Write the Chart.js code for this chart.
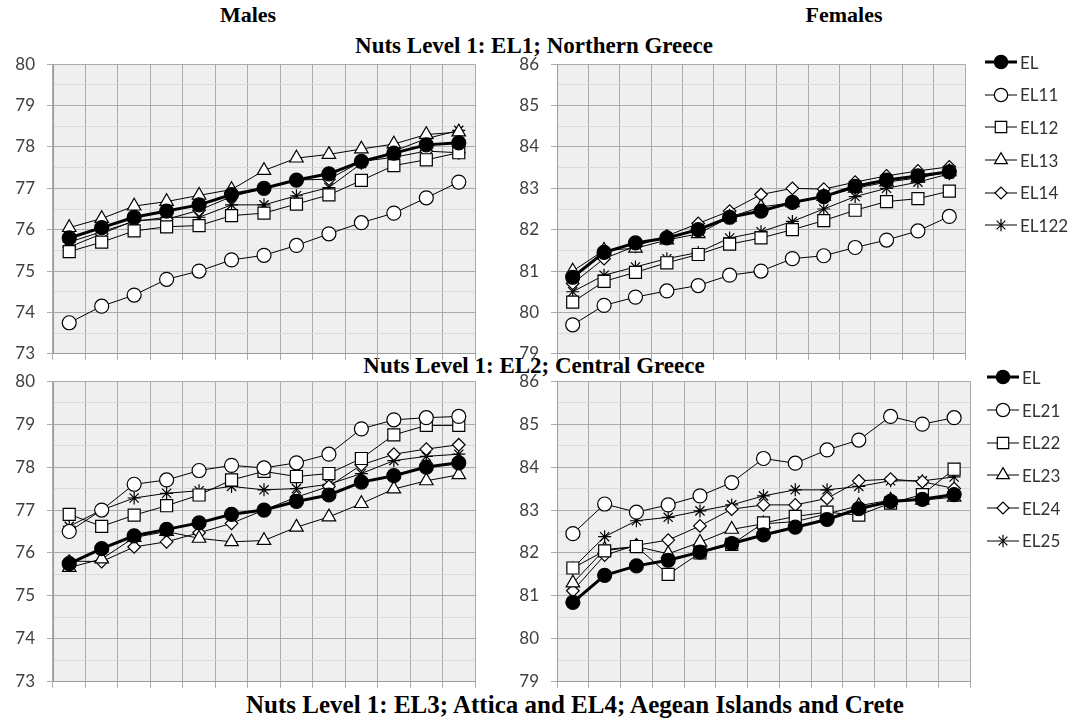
<!DOCTYPE html>
<html>
<head>
<meta charset="utf-8">
<script src="https://cdn.jsdelivr.net/npm/chart.js@4.4.1/dist/chart.umd.min.js"></script>
<style>
  body { margin: 0; width: 1068px; height: 720px; background: #fff; position: relative; overflow: hidden; }
  .ttl { position: absolute; font-family: "Liberation Serif", "Times New Roman", serif; font-weight: bold;
         font-size: 23px; color: #000; white-space: nowrap; transform: translate(-50%, -50%); }
  .ttl.sex { font-size: 22px; }
  .ttl.foot { font-size: 25px; }
  canvas { position: absolute; }
  .legend { position: absolute; font-family: Lato, sans-serif; font-size: 17px; color: #333; }
  .legend .item { display: flex; align-items: center; }
  .legend canvas { position: static; margin-right: 2px; }
</style>
</head>
<body>
<div class="ttl sex" style="left:248px;top:15px">Males</div>
<div class="ttl sex" style="left:844px;top:15px">Females</div>
<div class="ttl" style="left:534px;top:46px">Nuts Level 1: EL1; Northern Greece</div>
<div class="ttl" style="left:534px;top:366px">Nuts Level 1: EL2; Central Greece</div>
<div class="ttl foot" style="left:575px;top:705px">Nuts Level 1: EL3; Attica and EL4; Aegean Islands and Crete</div>

<canvas id="maleNorth" width="490" height="334" style="left:0;top:42px"></canvas>
<canvas id="femNorth" width="480" height="334" style="left:500px;top:42px"></canvas>
<canvas id="maleCentral" width="490" height="345" style="left:0;top:359px"></canvas>
<canvas id="femCentral" width="485" height="345" style="left:500px;top:359px"></canvas>

<div class="legend" id="legNorth" style="left:985px;top:46px"></div>
<div class="legend" id="legCentral" style="left:987px;top:361px"></div>

<script>
// 13 periods, x labels are not shown in the figure
const periods = ['1', '2', '3', '4', '5', '6', '7', '8', '9', '10', '11', '12', '13'];

const northNames = ['EL', 'EL11', 'EL12', 'EL13', 'EL14', 'EL122'];
const centralNames = ['EL', 'EL21', 'EL22', 'EL23', 'EL24', 'EL25'];

// Males, Northern Greece
const maleEL    = [75.8, 76.05, 76.3, 76.45, 76.6, 76.85, 77.0, 77.2, 77.35, 77.65, 77.85, 78.05, 78.1];
const maleEL11  = [73.75, 74.15, 74.42, 74.8, 75.0, 75.27, 75.38, 75.62, 75.9, 76.17, 76.4, 76.77, 77.15];
const maleEL12  = [75.47, 75.7, 75.97, 76.07, 76.1, 76.34, 76.4, 76.62, 76.84, 77.19, 77.55, 77.69, 77.86];
const maleEL13  = [76.05, 76.27, 76.57, 76.68, 76.83, 76.97, 77.43, 77.73, 77.82, 77.95, 78.07, 78.3, 78.36];
const maleEL14  = [75.58, 75.9, 76.22, 76.25, 76.47, 76.8, 77.0, 77.2, 77.22, 77.65, 77.75, 77.9, 77.86];
const maleEL122 = [75.7, 75.95, 76.2, 76.3, 76.3, 76.6, 76.6, 76.82, 77.02, 77.6, 77.9, 78.2, 78.4];

// Females, Northern Greece
const femEL    = [80.85, 81.45, 81.68, 81.8, 82.0, 82.3, 82.45, 82.66, 82.8, 83.05, 83.2, 83.3, 83.4];
const femEL11  = [79.7, 80.17, 80.37, 80.52, 80.65, 80.9, 81.0, 81.3, 81.37, 81.57, 81.75, 81.97, 82.32];
const femEL12  = [80.25, 80.75, 80.97, 81.2, 81.4, 81.65, 81.8, 82.0, 82.22, 82.47, 82.68, 82.75, 82.93];
const femEL13  = [81.0, 81.5, 81.55, 81.75, 81.9, 82.3, 82.55, 82.65, 82.8, 83.0, 83.15, 83.25, 83.4];
const femEL14  = [80.7, 81.3, 81.6, 81.85, 82.15, 82.45, 82.85, 83.0, 82.98, 83.15, 83.3, 83.42, 83.52];
const femEL122 = [80.5, 80.9, 81.1, 81.3, 81.45, 81.8, 81.95, 82.2, 82.5, 82.8, 83.0, 83.15, 83.35];

// Males, Central Greece
const maleELc  = [75.75, 76.1, 76.4, 76.55, 76.7, 76.9, 77.0, 77.2, 77.35, 77.65, 77.8, 78.0, 78.1];
const maleEL21 = [76.5, 77.0, 77.6, 77.7, 77.92, 78.04, 77.98, 78.1, 78.3, 78.89, 79.1, 79.15, 79.18];
const maleEL22 = [76.9, 76.62, 76.88, 77.1, 77.35, 77.7, 77.9, 77.78, 77.85, 78.2, 78.75, 78.97, 78.97];
const maleEL23 = [75.66, 75.86, 76.36, 76.5, 76.34, 76.26, 76.29, 76.6, 76.84, 77.15, 77.49, 77.68, 77.82];
const maleEL24 = [75.81, 75.8, 76.14, 76.26, 76.47, 76.69, 77.0, 77.3, 77.55, 78.05, 78.3, 78.42, 78.52];
const maleEL25 = [76.62, 77.0, 77.28, 77.39, 77.45, 77.55, 77.47, 77.5, 77.6, 77.85, 78.15, 78.25, 78.3];

// Females, Central Greece
const femELc  = [80.85, 81.48, 81.7, 81.83, 82.02, 82.22, 82.42, 82.6, 82.78, 83.03, 83.2, 83.25, 83.36];
const femEL21 = [82.45, 83.14, 82.95, 83.12, 83.33, 83.64, 84.2, 84.09, 84.4, 84.63, 85.18, 85.0, 85.15];
const femEL22 = [81.65, 82.05, 82.15, 81.5, 82.0, 82.2, 82.7, 82.85, 82.95, 82.88, 83.16, 83.36, 83.95];
const femEL23 = [81.3, 82.08, 82.15, 81.98, 82.25, 82.55, 82.68, 82.73, 82.91, 83.1, 83.23, 83.23, 83.3];
const femEL24 = [81.12, 81.95, 82.18, 82.3, 82.63, 83.02, 83.12, 83.12, 83.27, 83.68, 83.72, 83.66, 83.5];
const femEL25 = [81.65, 82.38, 82.75, 82.83, 82.98, 83.12, 83.33, 83.47, 83.47, 83.55, 83.68, 83.68, 83.77];

// marker look per series slot (same for every panel)
const markers = ['circle', 'circle', 'rect', 'triangle', 'rectRot', 'star'];
const fills   = ['#000', '#fff', '#fff', '#fff', '#fff', '#fff'];
const radii   = [7, 7, 8.5, 7.8, 6.3, 6.5];
const lineW   = [3, 1, 1, 1, 1, 1];

// grey plot background
const plotBg = {
    id: 'plotBg',
    beforeDraw(chart) {
        const { ctx, chartArea: a } = chart;
        ctx.save();
        ctx.fillStyle = '#efefef';
        ctx.fillRect(a.left, a.top, a.right - a.left, a.bottom - a.top);
        ctx.restore();
    }
};

function makeChart(id, names, series, yMin, yMax, yWidth) {
    return new Chart(document.getElementById(id), {
        type: 'line',
        data: {
            labels: periods,
            datasets: names.map((name, i) => ({
                label: name,
                data: series[i],
                borderColor: '#000',
                borderWidth: lineW[i],
                backgroundColor: fills[i],
                pointStyle: markers[i],
                pointRadius: radii[i],
                pointBorderColor: '#000',
                pointBorderWidth: 1.2,
                pointBackgroundColor: fills[i],
                tension: 0,
                fill: false
            }))
        },
        options: {
            responsive: false,
            animation: false,
            events: [],
            layout: { padding: { top: 0, right: 15, left: 0, bottom: 0 } },
            plugins: { legend: { display: false }, tooltip: { enabled: false } },
            scales: {
                x: {
                    offset: true,
                    grid: { offset: true, color: '#ababab', tickColor: '#ababab', tickLength: 6 },
                    border: { color: '#9c9c9c' },
                    ticks: { display: false },
                    afterFit: s => { s.height = 14; }
                },
                y: {
                    min: yMin,
                    max: yMax,
                    ticks: {
                        stepSize: 0.5,
                        autoSkip: false,
                        padding: 12,
                        color: '#404040',
                        font: { family: 'Lato', size: 17 },
                        callback: v => Number.isInteger(v) ? v : ''
                    },
                    grid: {
                        color: c => Number.isInteger(c.tick.value) ? '#ababab' : '#dadada',
                        tickColor: c => Number.isInteger(c.tick.value) ? '#ababab' : 'rgba(0,0,0,0)',
                        tickLength: 6
                    },
                    border: { color: '#9c9c9c' },
                    afterFit: s => { s.width = yWidth; }
                }
            }
        },
        plugins: [plotBg]
    });
}

makeChart('maleNorth', northNames, [maleEL, maleEL11, maleEL12, maleEL13, maleEL14, maleEL122], 73, 80, 53);
makeChart('femNorth', northNames, [femEL, femEL11, femEL12, femEL13, femEL14, femEL122], 79, 86, 57);
makeChart('maleCentral', centralNames, [maleELc, maleEL21, maleEL22, maleEL23, maleEL24, maleEL25], 73, 80, 53);
makeChart('femCentral', centralNames, [femELc, femEL21, femEL22, femEL23, femEL24, femEL25], 79, 86, 57);

// legend icons: short line with the marker in the middle
function drawIcon(cv, i) {
    const ctx = cv.getContext('2d');
    const x = 16, y = 11, r = radii[i] * 0.95;
    ctx.strokeStyle = '#000';
    ctx.lineWidth = lineW[i];
    ctx.beginPath(); ctx.moveTo(0, y); ctx.lineTo(32, y); ctx.stroke();
    ctx.lineWidth = 1.2;
    ctx.fillStyle = fills[i];
    ctx.beginPath();
    if (markers[i] === 'circle') {
        ctx.arc(x, y, r, 0, Math.PI * 2);
    } else if (markers[i] === 'rect') {
        const s = Math.SQRT1_2 * r;
        ctx.rect(x - s, y - s, 2 * s, 2 * s);
    } else if (markers[i] === 'triangle') {
        ctx.moveTo(x, y - r);
        ctx.lineTo(x + r * Math.sin(2 * Math.PI / 3), y - r * Math.cos(2 * Math.PI / 3));
        ctx.lineTo(x + r * Math.sin(4 * Math.PI / 3), y - r * Math.cos(4 * Math.PI / 3));
        ctx.closePath();
    } else if (markers[i] === 'rectRot') {
        ctx.moveTo(x - r, y); ctx.lineTo(x, y - r); ctx.lineTo(x + r, y); ctx.lineTo(x, y + r);
        ctx.closePath();
    }
    if (markers[i] === 'star') {
        const d = r * Math.SQRT1_2;
        ctx.moveTo(x - d, y - d); ctx.lineTo(x + d, y + d);
        ctx.moveTo(x + d, y - d); ctx.lineTo(x - d, y + d);
        ctx.moveTo(x, y - r); ctx.lineTo(x, y + r);
        ctx.stroke();
    } else {
        ctx.fill();
        ctx.stroke();
    }
}

function makeLegend(id, names, rowH) {
    const box = document.getElementById(id);
    names.forEach((name, i) => {
        const row = document.createElement('div');
        row.className = 'item';
        row.style.height = rowH + 'px';
        const cv = document.createElement('canvas');
        cv.width = 33; cv.height = 22;
        drawIcon(cv, i);
        const label = document.createElement('span');
        label.textContent = name;
        row.appendChild(cv);
        row.appendChild(label);
        box.appendChild(row);
    });
}

makeLegend('legNorth', northNames, 32.6);
makeLegend('legCentral', centralNames, 32.7);
</script>
</body>
</html>
